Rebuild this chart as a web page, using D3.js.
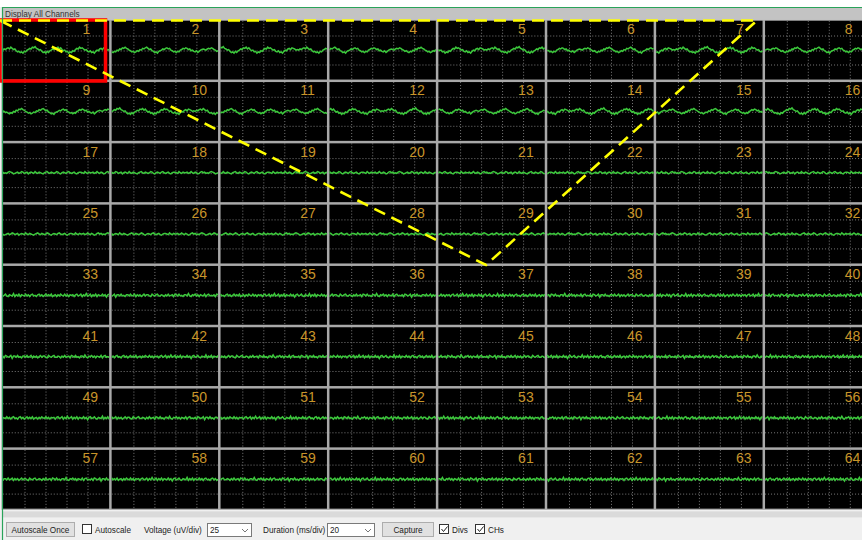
<!DOCTYPE html>
<html>
<head>
<meta charset="utf-8">
<script src="https://cdn.jsdelivr.net/npm/d3@7"></script>
<style>
  html, body { margin: 0; padding: 0; background: #f0f0f0; overflow: hidden; }
  svg { display: block; }
  .ui { font-family: "Liberation Sans", Arial, sans-serif; font-size: 8.2px; fill: #222; }
</style>
</head>
<body>
<script>
// window size
var width = 862,
	height = 540;

// channel numbers, laid out 8 x 8
var channelIds = d3.range(1, 65);

// traces in uV (rows 1-2 wavy, 3-4 quiet, 5-8 noisy)
var waveA = [0, 2, 1, 3, 4, 2, 5, 3, 1, 2, -1, -3, -2, -4, -3, -5, -2, -3, 0, 1, 3, 2, 5, 4, 6, 3, 2, 0, 1, -2, -4, -3, -5, -2, -4, -1, 0, 2, 1, 4, 3, 5, 2, 4, 1, -1, 0, -3, -2, -5, -3, -4, -1, -2, 1, 3, 2, 5, 3, 4, 2, 0, 1, -2, -3, -1, -4, -3, -5, -2, 0, -1, 2, 3, 1, 4, 3, 2, 0, 1];
var waveB = [1, 0, 2, 3, 2, 4, 3, 1, 0, -2, -1, -3, -4, -2, -3, 0, -1, 2, 1, 4, 3, 5, 3, 2, 0, -1, -3, -2, -4, -3, -1, -2, 1, 0, 3, 2, 4, 5, 3, 1, 2, -1, -2, -4, -3, -5, -2, -1, 0, 2, 1, 3, 4, 2, 3, 0, -1, -3, -2, -4, -2, -3, 0, 1, 3, 2, 4, 3, 1, 2, -1, 0, -2, -3, -1, -4, -2, 0, 1, 2];
var quietA = [0, 1, -1, 0, 2, 0, -1, 1, 0, -2, -1, 1, 2, 0, 1, -1, 0, -1, 1, 2, 1, 0, -2, -1, 0, 1, -1, 0, 2, 1, -1, 0, 1, -2, 0, 1, 0, -1, 2, 0, -1, 1, 0, -1, -2, 0, 1, 2, 0, -1, 1, 0, -1, 0, 2, 1, -1, -2, 0, 1, 0, -1, 1, 2, 0, -1, 0, 1, -1, -2, 0, 1, 1, 0, -1, 2, 0, -1, 1, 0];
var noiseA = [1, -2, 1, 2, -1, 0, 2, -2, 1, -1, 3, -1, 0, 2, -2, 1, -1, 2, -2, 1, 0, -1, 2, -1, 1, -3, 1, 2, -1, 0, 2, -1, -2, 1, 0, -1, 3, -2, 1, -1, 2, -2, 1, 0, -1, 2, -1, 1, -2, 1, 2, -1, 0, -2, 1, 2, -1, 1, -2, 0, 2, -1, 1, -1, 2, -2, 0, 1, -2, 1, -1, 2, 0, -1, 2, -1, 1, -2, 1, 0];
var noiseB = [-1, 2, -1, 0, 1, -2, 2, 1, -1, 2, -1, 0, -2, 1, 1, -1, 3, -1, -2, 1, 0, 2, -1, 1, -2, 1, 0, -1, 2, -2, 1, 2, -1, 0, -1, 1, -2, 2, 1, -1, 0, 2, -3, 1, 1, -1, 2, -1, 0, -2, 1, 1, -1, 2, -1, 0, 2, -2, 1, -1, 1, -2, 0, 2, -1, 1, 1, -1, -2, 2, 0, -1, 1, 2, -1, -1, 1, 0, -2, 1];

// which trace each row of the array shows
var rowTraces = [[waveA, waveB], [waveB, waveA], [quietA, quietA], [quietA, quietA],
	[noiseA, noiseB], [noiseB, noiseA], [noiseA, noiseB], [noiseB, noiseA]];

// display settings
var voltPerDiv = 25,   // uV/div
	msPerDiv = 20,     // ms/div
	xDivs = 5,
	yDivs = 4;

// overlay drawn on top of the grid (highlight box + dashed outline)
var outlinePoints = [[0, 20.5], [757, 20.5], [486, 265], [0, 20.5]];

// toolbar text
var toolLabels = ['Autoscale Once', 'Autoscale', 'Voltage (uV/div)', 'Duration (ms/div)', 'Capture', 'Divs', 'CHs'];

// grid geometry
var x0 = 1.5, y0 = 19.5,
	cellW = 108.9, cellH = 61.3,
	nCols = 8, nRows = 8;

var colX = d3.scaleLinear().domain([0, nCols]).range([x0, x0 + nCols * cellW]);
var rowY = d3.scaleLinear().domain([0, nRows]).range([y0, y0 + nRows * cellH]);

// inside one cell: time and voltage
var tScale = d3.scaleLinear()
	.domain([0, xDivs * msPerDiv])
	.range([1.25, cellW - 1.25]);
var vScale = d3.scaleLinear()
	.domain([-voltPerDiv * yDivs / 2, voltPerDiv * yDivs / 2])
	.range([cellH - 1.25, 1.25]);

// create svg element
var svg = d3.select('body')
	.append('svg')
	.attr('width', width)
	.attr('height', height);

// window background
svg.append('rect').attr('width', width).attr('height', height).attr('fill', '#f0f0f0');
svg.append('rect').attr('width', width).attr('height', 7).attr('fill', '#ffffff');

// group title bar
svg.append('rect')
	.attr('x', 2).attr('y', 7.5)
	.attr('width', width).attr('height', 12)
	.attr('fill', '#c3c3c3');
svg.append('text')
	.attr('class', 'ui')
	.attr('x', 5).attr('y', 16.5)
	.style('fill', '#333')
	.text('Display All Channels');

// grid frame
svg.append('rect')
	.attr('x', x0).attr('y', y0)
	.attr('width', nCols * cellW).attr('height', nRows * cellH)
	.attr('fill', '#a9a9a9');

// light band under the grid
svg.append('rect')
	.attr('x', 2).attr('y', rowY(nRows) + 1.5)
	.attr('width', width).attr('height', 6)
	.attr('fill', '#dadada');

// one group per channel
var cells = svg.append('g')
	.selectAll('g')
	.data(channelIds)
	.enter().append('g')
	.attr('transform', function(d) {
		var i = d - 1;
		return 'translate(' + colX(i % nCols) + ',' + rowY(Math.floor(i / nCols)) + ')';
	});

cells.append('rect')
	.attr('x', 1.25).attr('y', 1.25)
	.attr('width', cellW - 2.5).attr('height', cellH - 2.5)
	.attr('fill', '#000');

// dotted divisions
var tTicks = d3.range(1, xDivs).map(function(k) { return k * msPerDiv; });
var vTicks = d3.range(1, yDivs).map(function(k) { return -voltPerDiv * yDivs / 2 + k * voltPerDiv; });

cells.selectAll('line.vdiv')
	.data(tTicks)
	.enter().append('line')
	.attr('class', 'vdiv')
	.attr('x1', function(d) { return Math.round(tScale(d)) + 0.5; })
	.attr('x2', function(d) { return Math.round(tScale(d)) + 0.5; })
	.attr('y1', 1.25).attr('y2', cellH - 1.25)
	.attr('stroke', '#7a7a7a')
	.attr('stroke-dasharray', '1,2');

cells.selectAll('line.hdiv')
	.data(vTicks)
	.enter().append('line')
	.attr('class', 'hdiv')
	.attr('y1', function(d) { return Math.round(vScale(d)) + 0.5; })
	.attr('y2', function(d) { return Math.round(vScale(d)) + 0.5; })
	.attr('x1', 1.25).attr('x2', cellW - 1.25)
	.attr('stroke', '#7a7a7a')
	.attr('stroke-dasharray', '1,2');

// channel numbers
cells.append('text')
	.attr('x', 81).attr('y', 14.5)
	.style('font-family', '"Liberation Sans", Arial, sans-serif')
	.style('font-size', '14px')
	.style('fill', '#c8952a')
	.text(function(d) { return d; });

// traces
var line = d3.line()
	.x(function(d) { return tScale(d.t); })
	.y(function(d) { return vScale(d.v); });

cells.append('path')
	.attr('fill', 'none')
	.attr('stroke', '#3cc83c')
	.attr('stroke-width', 1.5)
	.attr('d', function(d) {
		var i = d - 1,
			row = Math.floor(i / nCols),
			col = i % nCols,
			src = rowTraces[row][col % 2],
			n = src.length,
			start = (col * 11 + row * 7) % n,
			dt = xDivs * msPerDiv / (n - 1);
		var pts = src.map(function(_, k) {
			return { t: k * dt, v: src[(start + k) % n] };
		});
		return line(pts);
	});

// highlight box round channel 1
svg.append('rect')
	.attr('x', 0).attr('y', 20)
	.attr('width', 105.5).attr('height', 61)
	.attr('fill', 'none')
	.attr('stroke', '#ff0000')
	.attr('stroke-width', 3.5);

// dashed outline
svg.append('path')
	.attr('d', d3.line()(outlinePoints))
	.attr('fill', 'none')
	.attr('stroke', '#ffff00')
	.attr('stroke-width', 2.6)
	.attr('stroke-dasharray', '12,7');

// green frame of the panel
svg.append('line').attr('x1', 2).attr('x2', width).attr('y1', 7.5).attr('y2', 7.5)
	.attr('stroke', '#2aa35a').attr('stroke-width', 1);
svg.append('line').attr('x1', 2.5).attr('x2', 2.5).attr('y1', 7).attr('y2', height)
	.attr('stroke', '#2aa35a').attr('stroke-width', 1.2);

// toolbar
var bar = svg.append('g');

function button(x, w, label) {
	bar.append('rect')
		.attr('x', x + 0.5).attr('y', 522.5)
		.attr('width', w).attr('height', 14)
		.attr('fill', '#e1e1e1').attr('stroke', '#adadad');
	bar.append('text').attr('class', 'ui')
		.attr('x', x + w / 2 + 0.5).attr('y', 532.5)
		.attr('text-anchor', 'middle')
		.text(label);
}

function checkbox(x, checked, label) {
	bar.append('rect')
		.attr('x', x + 0.5).attr('y', 524.5)
		.attr('width', 9).attr('height', 9)
		.attr('fill', '#fff').attr('stroke', '#333');
	if (checked) {
		bar.append('path')
			.attr('d', 'M' + (x + 2.5) + ',529 L' + (x + 4.5) + ',531.5 L' + (x + 8.5) + ',526.5')
			.attr('fill', 'none').attr('stroke', '#222').attr('stroke-width', 1);
	}
	bar.append('text').attr('class', 'ui')
		.attr('x', x + 13).attr('y', 532.5)
		.text(label);
}

function select(x, w, value) {
	bar.append('rect')
		.attr('x', x + 0.5).attr('y', 523.5)
		.attr('width', w).attr('height', 13)
		.attr('fill', '#fff').attr('stroke', '#7a7a7a');
	bar.append('text').attr('class', 'ui')
		.attr('x', x + 3).attr('y', 532.5)
		.text(value);
	var cx = x + w - 6;
	bar.append('path')
		.attr('d', 'M' + (cx - 3) + ',529 L' + cx + ',532 L' + (cx + 3) + ',529')
		.attr('fill', 'none').attr('stroke', '#555').attr('stroke-width', 0.8);
}

button(6, 68, toolLabels[0]);
checkbox(82, false, toolLabels[1]);
bar.append('text').attr('class', 'ui').attr('x', 144).attr('y', 532.5).text(toolLabels[2]);
select(207, 44, String(voltPerDiv));
bar.append('text').attr('class', 'ui').attr('x', 263).attr('y', 532.5).text(toolLabels[3]);
select(327, 47, String(msPerDiv));
button(382, 51, toolLabels[4]);
checkbox(439, true, toolLabels[5]);
checkbox(475, true, toolLabels[6]);
</script>
</body>
</html>
